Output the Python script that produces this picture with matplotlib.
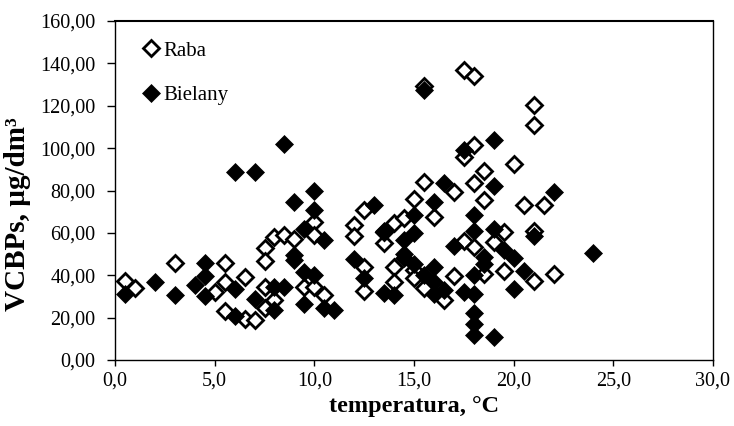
import matplotlib.pyplot as plt
from matplotlib.ticker import FuncFormatter

plt.rcParams['font.family'] = ['Liberation Serif', 'DejaVu Serif']

# temperatura [°C], VCBPs [ug/dm3]
raba_t = [0.5, 1.0, 3.0, 5.0, 5.5, 5.5, 5.5, 6.5, 6.5, 7.0, 7.5, 7.5, 8.0, 8.5,
          9.0, 10.0, 10.0, 7.5, 8.0, 7.5, 9.5, 10.0, 10.5, 12.0, 12.0, 12.5,
          12.5, 12.5, 13.5, 14.0, 14.5, 15.0, 15.5, 16.0, 17.0, 14.0, 14.0,
          15.0, 15.0, 15.5, 16.5, 17.0, 17.5, 18.0, 15.5, 17.5, 18.0, 21.0,
          21.0, 18.0, 17.5, 20.0, 18.5, 18.0, 18.5, 20.5, 21.5, 19.5, 21.0,
          19.0, 19.5, 18.5, 21.0, 22.0, 13.5]
raba_v = [37.5, 34.0, 46.0, 32.0, 46.0, 37.0, 23.0, 39.0, 19.5, 19.0, 53.0,
          46.5, 58.0, 59.0, 57.0, 65.0, 59.0, 34.5, 28.5, 24.5, 34.5, 34.5,
          30.5, 63.5, 58.5, 71.0, 44.0, 32.5, 55.0, 64.5, 67.0, 76.0, 84.0,
          67.5, 79.5, 44.0, 37.0, 42.5, 38.5, 34.0, 28.5, 39.5, 56.0, 53.5,
          129.5, 137.0, 134.0, 120.5, 111.0, 101.5, 96.0, 92.5, 89.0, 83.5,
          75.5, 73.0, 73.0, 60.5, 61.0, 55.5, 42.0, 40.5, 37.5, 40.5, 60.5]

bielany_t = [0.5, 2.0, 3.0, 4.0, 4.5, 4.5, 4.5, 6.0, 6.0, 6.0, 7.0, 7.0, 8.0,
             8.5, 8.0, 8.5, 9.0, 10.0, 10.0, 9.5, 10.5, 9.0, 9.0, 9.5, 10.0,
             9.5, 10.5, 11.0, 12.0, 12.5, 13.0, 13.5, 13.5, 14.0, 14.5, 14.5,
             15.0, 15.0, 14.5, 15.0, 15.5, 16.0, 16.0, 16.0, 16.5, 15.5, 17.5,
             19.0, 16.5, 16.0, 19.0, 22.0, 17.0, 18.0, 18.0, 18.0, 17.5, 18.0,
             18.0, 18.0, 18.0, 19.0, 19.0, 18.5, 18.5, 19.5, 20.0, 20.5, 20.0,
             21.0, 24.0]
bielany_v = [31.0, 37.0, 30.5, 35.5, 46.0, 39.5, 30.0, 33.5, 21.0, 88.5, 88.5,
             29.0, 34.5, 34.5, 23.5, 102.0, 74.5, 80.0, 71.0, 62.0, 56.5, 49.5,
             47.0, 41.5, 40.0, 26.5, 24.5, 23.5, 47.5, 38.5, 73.0, 61.0, 31.5,
             30.5, 50.0, 56.5, 60.0, 68.5, 48.0, 45.5, 40.0, 44.0, 37.0, 31.0,
             33.0, 127.5, 99.0, 104.0, 83.5, 74.5, 82.0, 79.5, 54.0, 68.5, 61.0,
             40.0, 32.0, 31.0, 22.0, 17.0, 12.0, 11.0, 62.0, 48.5, 45.5, 52.0,
             48.0, 42.0, 33.5, 58.5, 50.5]

fig = plt.figure(figsize=(7.34, 4.26), dpi=100)
ax = fig.add_axes([115/734, 1 - 360/426, 598/734, 339/426])

ax.plot(raba_t, raba_v, linestyle='none', marker='D', markersize=8,
        markerfacecolor='white', markeredgecolor='black', markeredgewidth=2,
        label='Raba')
ax.plot(bielany_t, bielany_v, linestyle='none', marker='D', markersize=9,
        markerfacecolor='black', markeredgecolor='black', markeredgewidth=0.5,
        label='Bielany')

ax.set_xlim(0, 30)
ax.set_ylim(0, 160)
ax.set_xticks(range(0, 31, 5))
ax.set_yticks(range(0, 161, 20))
ax.xaxis.set_major_formatter(FuncFormatter(lambda v, p: f'{v:.1f}'.replace('.', ',')))
ax.yaxis.set_major_formatter(FuncFormatter(lambda v, p: f'{v:.2f}'.replace('.', ',')))
ax.tick_params(direction='out', width=1, labelsize=14.5)
ax.tick_params(axis='x', length=4.5, pad=4)
ax.tick_params(axis='y', length=6, pad=8)
for s in ax.spines.values():
    s.set_linewidth(1)
ax.spines['top'].set_linewidth(1.5)

ax.set_xlabel('temperatura, °C', fontsize=17.5, fontweight='bold', labelpad=4)
ax.set_ylabel('VCBPs, µg/dm³', fontsize=21, fontweight='bold')
ax.yaxis.set_label_coords(-0.14, 0.43)

ax.legend(loc='upper left', bbox_to_anchor=(29/598, 1 - 20/339), frameon=False,
          fontsize=15, labelspacing=1.2, handlelength=0.7, handletextpad=0.25,
          borderpad=0, borderaxespad=0)

fig.savefig('out.png', dpi=100)
